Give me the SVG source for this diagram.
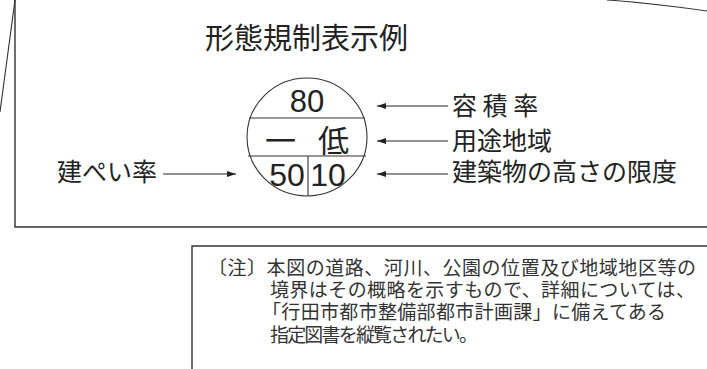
<svg xmlns="http://www.w3.org/2000/svg" width="707" height="369" viewBox="0 0 707 369">
<defs>
<marker id="ah" markerUnits="userSpaceOnUse" markerWidth="9" markerHeight="6" refX="9" refY="3" orient="auto">
<path d="M0,0 L9,3 L0,6 z" fill="#222"/>
</marker>
<style>
.ln{fill:none;stroke:#333;stroke-width:1.4}
.thin{fill:none;stroke:#333;stroke-width:1.1}
.jp{font-family:"Noto Sans CJK JP","Noto Sans",sans-serif;fill:#222}
.num{font-family:"Liberation Sans",Arial,sans-serif;fill:#222;text-anchor:middle}
.note{font-family:"Noto Sans CJK JP",sans-serif;fill:#333;font-size:19px}
.arr{fill:none;stroke:#222;stroke-width:1.2;marker-end:url(#ah)}
</style>
</defs>
<rect width="707" height="369" fill="#fff"/>
<g id="frame">
<path class="ln" d="M15,0 L15,227 L707,227"/>
<path class="thin" d="M15,0 L0,112"/>
<path class="thin" d="M607,0 Q650,3 707,11"/>
</g>
<g id="title">
<text class="jp" x="205" y="49" font-size="29" textLength="203" lengthAdjust="spacingAndGlyphs">形態規制表示例</text>
</g>
<g id="sign">
<ellipse class="thin" cx="307" cy="137" rx="60" ry="59"/>
<line class="thin" x1="249" y1="118" x2="365" y2="118"/>
<line class="thin" x1="248" y1="156" x2="366" y2="156"/>
<line class="thin" x1="308" y1="156" x2="308" y2="196"/>
<text class="num" x="307" y="112" font-size="31">80</text>
<text class="jp" font-size="31"><tspan x="265" y="152">一</tspan><tspan x="318" y="152">低</tspan></text>
<text class="num" x="287" y="186" font-size="32">50</text>
<text class="num" x="328" y="186" font-size="32">10</text>
</g>
<g id="label-far">
<text class="jp" x="452" y="115" font-size="25">容 積 率</text>
</g>
<g id="label-youto">
<text class="jp" x="452" y="150" font-size="25">用途地域</text>
</g>
<g id="label-height">
<text class="jp" x="452" y="181" font-size="25">建築物の高さの限度</text>
</g>
<g id="label-bcr">
<text class="jp" x="57" y="181" font-size="25">建ぺい率</text>
</g>
<g id="connectors">
<line class="arr" x1="448" y1="106" x2="377" y2="106"/>
<line class="arr" x1="448" y1="141" x2="377" y2="141"/>
<line class="arr" x1="448" y1="174" x2="377" y2="174"/>
<line class="arr" x1="163" y1="174" x2="236" y2="174"/>
</g>
<g id="note">
<path class="ln" d="M192,369 L192,246 L707,246"/>
<text class="note"><tspan x="208" y="275" textLength="488" lengthAdjust="spacing">〔注〕本図の道路、河川、公園の位置及び地域地区等の</tspan><tspan x="270" y="297" textLength="425" lengthAdjust="spacing">境界はその概略を示すもので、詳細については、</tspan><tspan x="262" y="319" textLength="404" lengthAdjust="spacing">「行田市都市整備部都市計画課」に備えてある</tspan><tspan x="270" y="342" textLength="208" lengthAdjust="spacing">指定図書を縦覧されたい。</tspan></text>
</g>
</svg>
